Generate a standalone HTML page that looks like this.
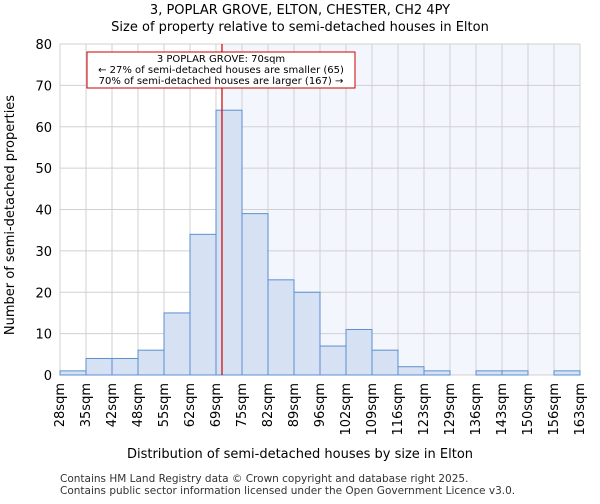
<!DOCTYPE html>
<html><head><meta charset="utf-8"><style>
body{margin:0;background:#fff;font-family:"DejaVu Sans","Liberation Sans",sans-serif;}
</style></head><body>
<svg id="c" width="600" height="500" xmlns="http://www.w3.org/2000/svg" font-family="DejaVu Sans, Liberation Sans, sans-serif">
<text x="300" y="14" text-anchor="middle" font-size="13">3, POPLAR GROVE, ELTON, CHESTER, CH2 4PY</text>
<text x="300" y="31" text-anchor="middle" font-size="13">Size of property relative to semi-detached houses in Elton</text>
<g id="plot"></g>
<text x="300" y="458" text-anchor="middle" font-size="13">Distribution of semi-detached houses by size in Elton</text>
<text x="14" y="215" text-anchor="middle" font-size="13" transform="rotate(-90 14 215)">Number of semi-detached properties</text>
<text x="60" y="482" font-size="10.5" fill="#333">Contains HM Land Registry data © Crown copyright and database right 2025.</text>
<text x="60" y="494" font-size="10.5" fill="#333">Contains public sector information licensed under the Open Government Licence v3.0.</text>
</svg>
<script>
const tickLabels=["28sqm","35sqm","42sqm","48sqm","55sqm","62sqm","69sqm","75sqm","82sqm","89sqm","96sqm","102sqm","109sqm","116sqm","123sqm","129sqm","136sqm","143sqm","150sqm","156sqm","163sqm"];
const counts=[1,4,4,6,15,34,64,39,23,20,7,11,6,2,1,0,1,1,0,1];
const yTicks=[0,10,20,30,40,50,60,70,80];
const markerBin=6.23;
const L=60,R=580,T=44,B=375,yMax=80;
const n=counts.length,bw=(R-L)/n;
const xs=i=>L+i*bw, ys=v=>B-(v/yMax)*(B-T);
const g=document.getElementById('plot');const NS='http://www.w3.org/2000/svg';
function mk(t,a){const e=document.createElementNS(NS,t);for(const k in a)e.setAttribute(k,a[k]);g.appendChild(e);return e;}
const mx=xs(markerBin);
let e=mk('rect',{x:mx,y:T,width:R-mx,height:B-T,fill:'#f3f6fd'});


for(let i=0;i<=n;i++){e=mk('line',{x1:xs(i),x2:xs(i),y1:T,y2:B,stroke:'#d0d0d0'});

}
yTicks.forEach(v=>{e=mk('line',{x1:L,x2:R,y1:ys(v),y2:ys(v),stroke:'#d0d0d0'});


e=mk('text',{x:L-8,y:ys(v)+5,'text-anchor':'end','font-size':13});e.textContent=v;

});
counts.forEach((v,i)=>{if(v<=0)return;e=mk('rect',{x:xs(i),y:ys(v),width:bw,height:B-ys(v),fill:'#d6e2f4',stroke:'#5b8fd0','stroke-width':1});

});
tickLabels.forEach((t,i)=>{const x=xs(i)+4;e=mk('text',{x:x,y:B+8,'text-anchor':'end','font-size':13,transform:`rotate(-90 ${x} ${B+8})`});e.textContent=t;

});
e=mk('line',{x1:mx,x2:mx,y1:T,y2:B,stroke:'#cc0000','stroke-width':1.2});


e=mk('rect',{x:87,y:52,width:268,height:36,fill:'#fff',stroke:'#cc0000'});


["3 POPLAR GROVE: 70sqm","← 27% of semi-detached houses are smaller (65)","70% of semi-detached houses are larger (167) →"].forEach((t,i)=>{e=mk('text',{x:221,y:62+i*11,'text-anchor':'middle','font-size':10});e.textContent=t;

});
</script>
</body></html>
